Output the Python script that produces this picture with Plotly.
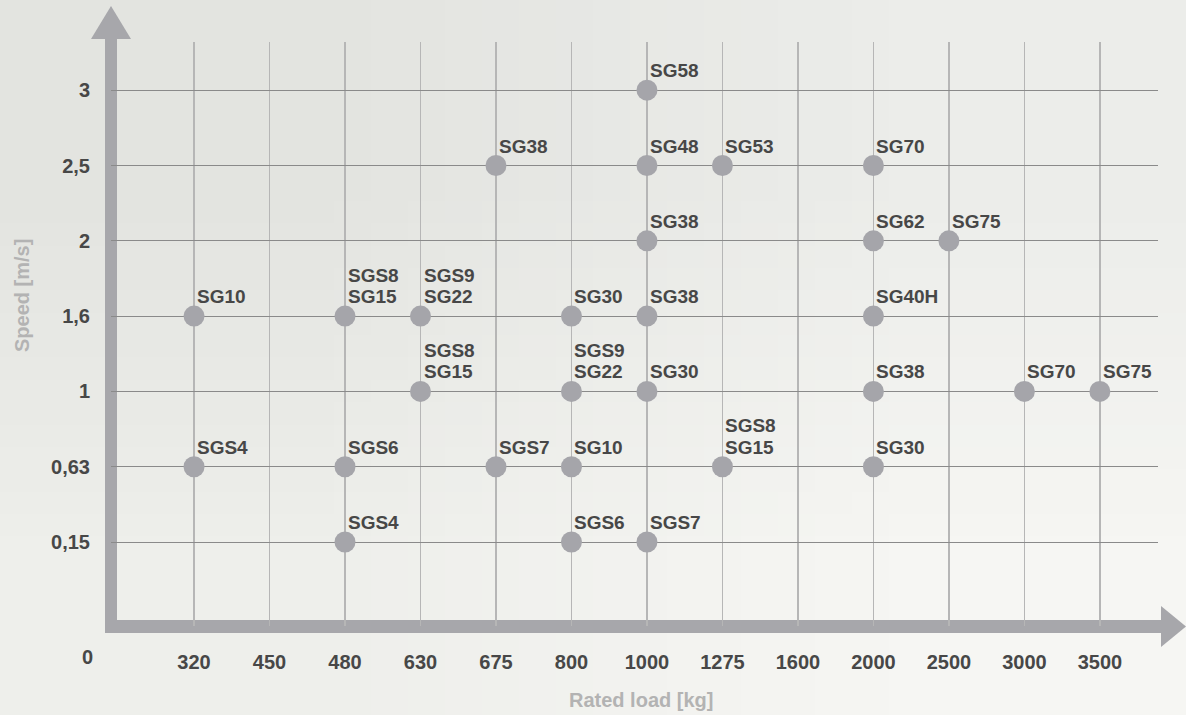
import base64, struct, zlib
import plotly.graph_objects as go

# ---------------- data ----------------
load_categories = ["320", "450", "480", "630", "675", "800", "1000", "1275",
                   "1600", "2000", "2500", "3000", "3500"]
speed_categories = ["0,15", "0,63", "1", "1,6", "2", "2,5", "3"]

point_load = ["320", "320",
              "480", "480", "480",
              "630", "630",
              "675", "675",
              "800", "800", "800", "800",
              "1000", "1000", "1000", "1000", "1000", "1000",
              "1275", "1275",
              "2000", "2000", "2000", "2000", "2000",
              "2500", "3000", "3500"]
point_speed = ["1,6", "0,63",
               "1,6", "0,63", "0,15",
               "1,6", "1",
               "2,5", "0,63",
               "1,6", "1", "0,63", "0,15",
               "3", "2,5", "2", "1,6", "1", "0,15",
               "2,5", "0,63",
               "2,5", "2", "1,6", "1", "0,63",
               "2", "1", "1"]
point_label = ["SG10", "SGS4",
               "SGS8<br>SG15", "SGS6", "SGS4",
               "SGS9<br>SG22", "SGS8<br>SG15",
               "SG38", "SGS7",
               "SG30", "SGS9<br>SG22", "SG10", "SGS6",
               "SG58", "SG48", "SG38", "SG38", "SG30", "SGS7",
               "SG53", "SGS8<br>SG15",
               "SG70", "SG62", "SG40H", "SG38", "SG30",
               "SG75", "SG70", "SG75"]

x_title = "Rated load [kg]"
y_title = "Speed [m/s]"
origin_label = "0"

# ---------------- style ----------------
FONT = "Liberation Sans, Arial, sans-serif"
DARK = "#474747"
AXIS_GREY = "#a7a7ab"
MARKER_GREY = "#a5a5aa"
TITLE_GREY = "#b3b3b3"
LINE_STEP = 21.5

W, H = 1186, 715
L, R, T, B = 111, 28, 42, 89
PW, PH = W - L - R, H - T - B


def px(x):
    return (x - L) / PW


def py(y):
    return (H - B - y) / PH


def make_png(w, h, pixels):
    raw = b"".join(b"\x00" + bytes(sum(row, ())) for row in pixels)

    def chunk(tag, data):
        c = tag + data
        return struct.pack(">I", len(data)) + c + struct.pack(">I", zlib.crc32(c) & 0xffffffff)

    return (b"\x89PNG\r\n\x1a\n" + chunk(b"IHDR", struct.pack(">IIBBBBB", w, h, 8, 2, 0, 0, 0))
            + chunk(b"IDAT", zlib.compress(raw)) + chunk(b"IEND", b""))


bg_png = make_png(2, 2, [[(0xe3, 0xe4, 0xe0), (0xec, 0xed, 0xea)],
                         [(0xee, 0xef, 0xeb), (0xf6, 0xf6, 0xf3)]])
bg_uri = "data:image/png;base64," + base64.b64encode(bg_png).decode()

fig = go.Figure()
fig.add_trace(go.Scatter(
    x=point_load, y=point_speed, mode="markers",
    marker=dict(size=21, color=MARKER_GREY, line=dict(width=0)),
    hoverinfo="skip", showlegend=False,
))

annotations = []
for xl, yl, lab in zip(point_load, point_speed, point_label):
    lines = lab.split("<br>")
    for k, line in enumerate(reversed(lines)):
        annotations.append(dict(
            # category axes: annotations take the category's index
            x=load_categories.index(xl), y=speed_categories.index(yl),
            xref="x", yref="y", text=line, showarrow=False,
            xanchor="left", yanchor="bottom", xshift=1, yshift=7 + k * LINE_STEP,
            align="left",
            font=dict(family=FONT, size=19, color=DARK, weight="bold"),
        ))

annotations.append(dict(
    x=px(87), y=py(657), xref="paper", yref="paper", text=origin_label,
    showarrow=False, xanchor="center", yanchor="middle",
    font=dict(family=FONT, size=20, color=DARK, weight="bold"),
))
annotations.append(dict(
    x=px(641), y=py(700), xref="paper", yref="paper", text=x_title,
    showarrow=False, xanchor="center", yanchor="middle",
    font=dict(family=FONT, size=20, color=TITLE_GREY, weight="bold"),
))
annotations.append(dict(
    x=px(22), y=py(296), xref="paper", yref="paper", text=y_title,
    showarrow=False, xanchor="center", yanchor="middle", textangle=-90,
    font=dict(family=FONT, size=20, color=TITLE_GREY, weight="bold"),
))

shapes = [
    # horizontal axis bar
    dict(type="rect", xref="paper", yref="paper", x0=px(105), x1=px(1162),
         y0=py(620), y1=py(633), fillcolor=AXIS_GREY, line=dict(width=0), layer="below"),
    dict(type="path", xref="paper", yref="paper",
         path=f"M {px(1161)} {py(606)} L {px(1186)} {py(626.5)} L {px(1161)} {py(647)} Z",
         fillcolor=AXIS_GREY, line=dict(width=0), layer="below"),
    # vertical axis bar
    dict(type="rect", xref="paper", yref="paper", x0=px(105), x1=px(117),
         y0=py(633), y1=py(38), fillcolor=AXIS_GREY, line=dict(width=0), layer="below"),
    dict(type="path", xref="paper", yref="paper",
         path=f"M {px(91)} {py(39)} L {px(111)} {py(6)} L {px(131)} {py(39)} Z",
         fillcolor=AXIS_GREY, line=dict(width=0), layer="below"),
]

fig.update_layout(
    width=W, height=H,
    margin=dict(l=L, r=R, t=T, b=B, pad=0),
    paper_bgcolor="#eeeeeb", plot_bgcolor="rgba(0,0,0,0)",
    images=[dict(source=bg_uri, xref="paper", yref="paper", x=px(0), y=py(0),
                 sizex=px(W) - px(0), sizey=py(0) - py(H), sizing="stretch",
                 xanchor="left", yanchor="top", layer="below")],
    shapes=shapes, annotations=annotations,
    xaxis=dict(type="category", categoryorder="array", categoryarray=load_categories,
               range=[-1.1, 12.77], showgrid=True, gridcolor="#b6b6b6", gridwidth=1.5,
               zeroline=False, showline=False, ticks="", ticklabelstandoff=22,
               tickfont=dict(family=FONT, size=20, color=DARK, weight="bold"),
               fixedrange=True),
    yaxis=dict(type="category", categoryorder="array", categoryarray=speed_categories,
               range=[-1.115, 6.64], showgrid=True, gridcolor="#8a8a8a", gridwidth=1,
               zeroline=False, showline=False, ticks="", ticklabelstandoff=20,
               tickfont=dict(family=FONT, size=20, color=DARK, weight="bold"),
               fixedrange=True),
    showlegend=False,
)

fig.write_html(
    "out.html",
    config={"displayModeBar": False, "staticPlot": True},
    post_script="document.body.style.margin='0';document.body.style.overflow='hidden';",
)
